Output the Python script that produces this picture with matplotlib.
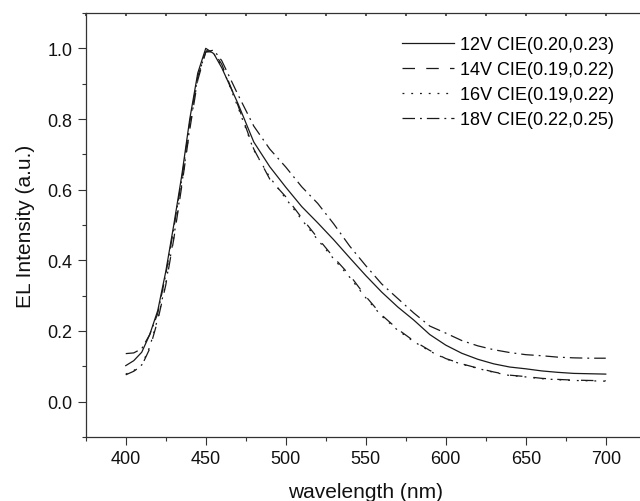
import matplotlib.pyplot as plt
from matplotlib.ticker import MultipleLocator, FormatStrFormatter

plt.rcParams['font.family'] = ['Liberation Sans', 'DejaVu Sans']

# wavelength grid (nm)
wavelength = [400, 405, 410, 415, 420, 425, 430, 435, 440, 445, 450, 455, 460,
              470, 480, 490, 500, 510, 520, 530, 540, 550, 560, 570, 580, 590,
              600, 610, 620, 630, 640, 650, 660, 670, 680, 690, 700]

el_12v = [0.102, 0.116, 0.140, 0.190, 0.258, 0.368, 0.500, 0.640, 0.800, 0.930,
          1.000, 0.985, 0.945, 0.845, 0.735, 0.665, 0.607, 0.552, 0.506, 0.458,
          0.407, 0.357, 0.310, 0.268, 0.231, 0.190, 0.160, 0.137, 0.120, 0.107,
          0.098, 0.093, 0.087, 0.083, 0.080, 0.079, 0.078]

el_14v = [0.076, 0.086, 0.102, 0.150, 0.230, 0.330, 0.460, 0.610, 0.770, 0.910,
          0.990, 0.990, 0.955, 0.840, 0.715, 0.630, 0.580, 0.520, 0.463, 0.408,
          0.358, 0.298, 0.245, 0.205, 0.172, 0.145, 0.122, 0.107, 0.095, 0.084,
          0.075, 0.071, 0.066, 0.063, 0.061, 0.060, 0.059]

el_16v = [0.078, 0.088, 0.104, 0.155, 0.235, 0.335, 0.465, 0.615, 0.775, 0.915,
          0.995, 0.985, 0.950, 0.835, 0.712, 0.635, 0.575, 0.515, 0.458, 0.404,
          0.352, 0.294, 0.242, 0.202, 0.170, 0.143, 0.121, 0.106, 0.094, 0.083,
          0.074, 0.070, 0.065, 0.062, 0.060, 0.059, 0.058]

el_18v = [0.136, 0.138, 0.150, 0.190, 0.250, 0.360, 0.490, 0.630, 0.790, 0.920,
          0.990, 0.995, 0.965, 0.870, 0.780, 0.715, 0.664, 0.608, 0.561, 0.503,
          0.440, 0.385, 0.333, 0.292, 0.251, 0.214, 0.194, 0.173, 0.158, 0.147,
          0.139, 0.133, 0.130, 0.126, 0.124, 0.123, 0.123]

labels = ["12V CIE(0.20,0.23)", "14V CIE(0.19,0.22)",
          "16V CIE(0.19,0.22)", "18V CIE(0.22,0.25)"]

fig = plt.figure(figsize=(6.4, 5.02), dpi=100)
# right edge of the frame falls just outside the picture, as in the source
ax = fig.add_axes([0.134, 0.1275, 0.875, 0.8446])

ink = "#1a1a1a"
ax.plot(wavelength, el_12v, color=ink, lw=0.9, ls="-", label=labels[0])
ax.plot(wavelength, el_14v, color=ink, lw=0.9, ls=(0, (10, 9)), label=labels[1])
ax.plot(wavelength, el_16v, color=ink, lw=0.9, ls=(0, (1.5, 5.5)), label=labels[2])
ax.plot(wavelength, el_18v, color=ink, lw=0.9, ls=(0, (10, 4, 1.5, 4)), label=labels[3])

ax.set_xlim(375, 725)
ax.set_ylim(-0.1, 1.1)
ax.xaxis.set_major_locator(MultipleLocator(50))
ax.xaxis.set_minor_locator(MultipleLocator(25))
ax.yaxis.set_major_locator(MultipleLocator(0.2))
ax.yaxis.set_minor_locator(MultipleLocator(0.1))
ax.yaxis.set_major_formatter(FormatStrFormatter("%.1f"))

for side in ["left", "bottom", "top", "right"]:
    ax.spines[side].set_color("#333333")
    ax.spines[side].set_linewidth(0.9)

ax.tick_params(which="major", direction="out", length=6, width=0.8,
               color="#333333", labelsize=13, labelcolor="#111111")
ax.tick_params(which="minor", direction="out", length=3, width=0.8, color="#333333")

# tiny inward marks along the top frame
top = ax.secondary_xaxis("top")
top.xaxis.set_major_locator(MultipleLocator(25))
top.tick_params(direction="in", length=2, width=1.2, color="#333333", labeltop=False)
top.spines["top"].set_visible(False)

ax.set_xlabel("wavelength (nm)", fontsize=15, color="#111111", labelpad=11)
ax.set_ylabel("EL Intensity (a.u.)", fontsize=15, color="#111111", labelpad=9)

ax.legend(loc="upper left", bbox_to_anchor=(0.605, 0.955),
          bbox_transform=fig.transFigure, frameon=False, fontsize=13,
          handlelength=2.9, handletextpad=0.35, labelspacing=0.45,
          borderpad=0.3)

fig.savefig("out.png", dpi=100)
